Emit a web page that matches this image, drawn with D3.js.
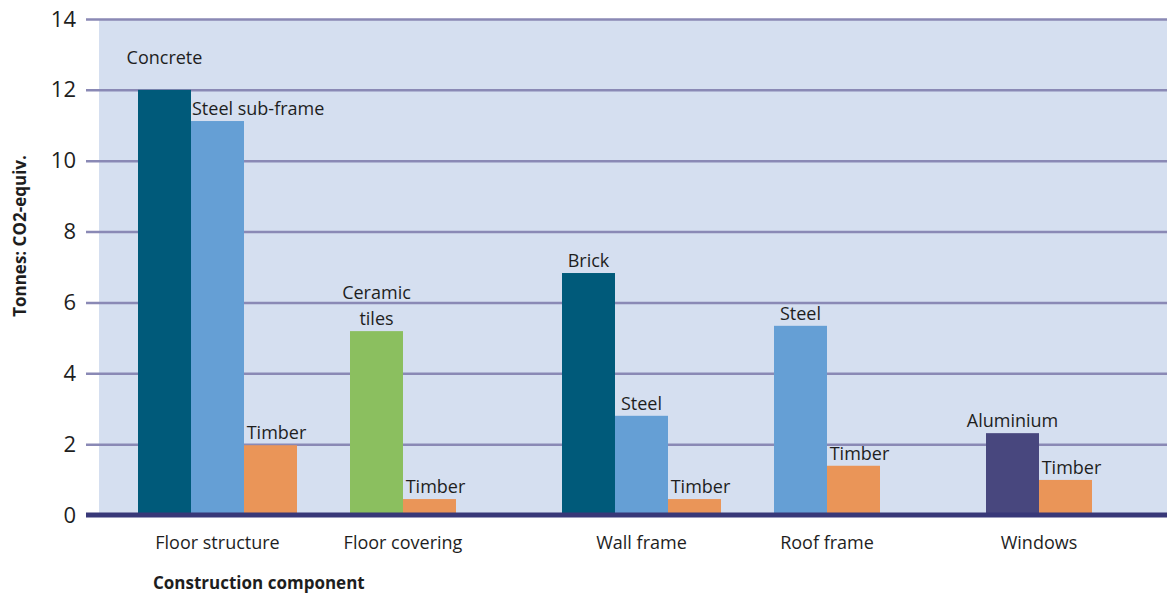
<!DOCTYPE html>
<html>
<head>
<meta charset="utf-8">
<script src="https://cdn.jsdelivr.net/npm/d3@7"></script>
<style>
  html, body { margin: 0; padding: 0; background: #ffffff; }
  svg { display: block; }
  text { font-family: "Open Sans", "DejaVu Sans", sans-serif; fill: #1e1e1e; }
</style>
</head>
<body>
<svg id="chart" width="1167" height="599"></svg>
<script>
// ---- data ----
const categories = ["Floor structure", "Floor covering", "Wall frame", "Roof frame", "Windows"];
const barCategory = ["Floor structure", "Floor structure", "Floor structure",
                     "Floor covering", "Floor covering",
                     "Wall frame", "Wall frame", "Wall frame",
                     "Roof frame", "Roof frame",
                     "Windows", "Windows"];
const barMaterial = ["Concrete", "Steel sub-frame", "Timber",
                     "Ceramic tiles", "Timber",
                     "Brick", "Steel", "Timber",
                     "Steel", "Timber",
                     "Aluminium", "Timber"];
const barValue = [12.0, 11.12, 1.97,
                  5.19, 0.45,
                  6.83, 2.8, 0.45,
                  5.34, 1.39,
                  2.31, 0.99];
const yTicks = [0, 2, 4, 6, 8, 10, 12, 14];
const yTitle = "Tonnes: CO2-equiv.";
const xTitle = "Construction component";

// ---- styles ----
const materialColor = {
  "Concrete": "#005a7a", "Brick": "#005a7a",
  "Steel sub-frame": "#659fd5", "Steel": "#659fd5",
  "Timber": "#ea9558",
  "Ceramic tiles": "#8bbf5f",
  "Aluminium": "#48477e"
};

const svg = d3.select("#chart");
const plot = { left: 99, right: 1167, top: 19, bottom: 515 };
const slotsPerGroup = 4;
const slotW = 53;

const y = d3.scaleLinear().domain([0, 14]).range([plot.bottom, plot.top]);
// each construction component gets a band of 4 bar slots, bars left-aligned in it
const x = d3.scaleBand().domain(categories)
  .range([138, 138 + categories.length * slotsPerGroup * slotW]).padding(0);

// background
svg.append("rect")
  .attr("x", plot.left).attr("y", plot.top)
  .attr("width", plot.right - plot.left).attr("height", plot.bottom - plot.top)
  .attr("fill", "#d5dff0");

// y axis with gridlines
const yAxis = d3.axisLeft(y).tickValues(yTicks).tickSize(-(plot.right - 86)).tickPadding(10)
  .tickFormat(d3.format("d"));
const gy = svg.append("g").attr("transform", `translate(86,0)`).call(yAxis);
gy.select(".domain").remove();
gy.selectAll(".tick line")
  .attr("stroke", "#8a89b5").attr("stroke-width", 2.5)
  .attr("x1", 0).attr("x2", plot.right - 86);
gy.selectAll(".tick text")
  .attr("x", -10)
  .style("font-size", "22px").style("fill", "#1e1e1e")
  .style("font-family", "'Open Sans', sans-serif");
gy.selectAll(".tick").filter(d => d === 0).select("line").remove();

// bars
const bars = barValue.map((v, i) => ({ cat: barCategory[i], mat: barMaterial[i], value: v }));
const groups = d3.group(bars, d => d.cat);
const groupCenter = {};
groups.forEach((arr, cat) => {
  const sub = d3.scaleBand().domain(d3.range(slotsPerGroup))
    .range([x(cat), x(cat) + x.bandwidth()]);
  arr.forEach((d, j) => { d.x0 = sub(j); d.w = sub.bandwidth(); });
  groupCenter[cat] = x(cat) + arr.length * sub.bandwidth() / 2;
});

svg.append("g").selectAll("rect").data(bars).join("rect")
  .attr("x", d => d.x0).attr("y", d => y(d.value))
  .attr("width", d => d.w).attr("height", d => y(0) - y(d.value))
  .attr("fill", d => materialColor[d.mat]);

// zero axis line
svg.append("line")
  .attr("x1", 86).attr("x2", plot.right)
  .attr("y1", y(0)).attr("y2", y(0))
  .attr("stroke", "#383878").attr("stroke-width", 5);

// bar labels
const lbl = svg.append("g").style("font-size", "18px");
bars.forEach(d => {
  const cx = d.x0 + d.w / 2;
  const onGrid = yTicks.includes(d.value);
  const words = d.mat === "Ceramic tiles" ? ["Ceramic", "tiles"] : [d.mat];
  const t = lbl.append("text").attr("fill", "#1e1e1e");
  if (d.mat === "Steel sub-frame") {
    t.attr("x", d.x0 + 1).attr("text-anchor", "start");
  } else if (d.mat === "Timber") {
    t.attr("x", cx + 6).attr("text-anchor", "middle");
  } else {
    t.attr("x", cx).attr("text-anchor", "middle");
  }
  const base = y(d.value) - (onGrid ? 26 : 6);
  words.forEach((w, k) => {
    t.append("tspan").attr("x", t.attr("x"))
      .attr("y", base - (words.length - 1 - k) * 26)
      .text(w);
  });
});

// category labels
svg.append("g").selectAll("text").data(categories).join("text")
  .attr("x", d => groupCenter[d])
  .attr("y", 549)
  .attr("text-anchor", "middle")
  .style("font-size", "18px")
  .text(d => d);

// axis titles
svg.append("text")
  .attr("x", 153).attr("y", 589)
  .style("font-size", "17px").style("font-weight", "bold")
  .text(xTitle);

svg.append("text")
  .attr("transform", `translate(26,236) rotate(-90)`)
  .attr("text-anchor", "middle")
  .style("font-size", "17px").style("font-weight", "bold")
  .text(yTitle);
</script>
</body>
</html>
